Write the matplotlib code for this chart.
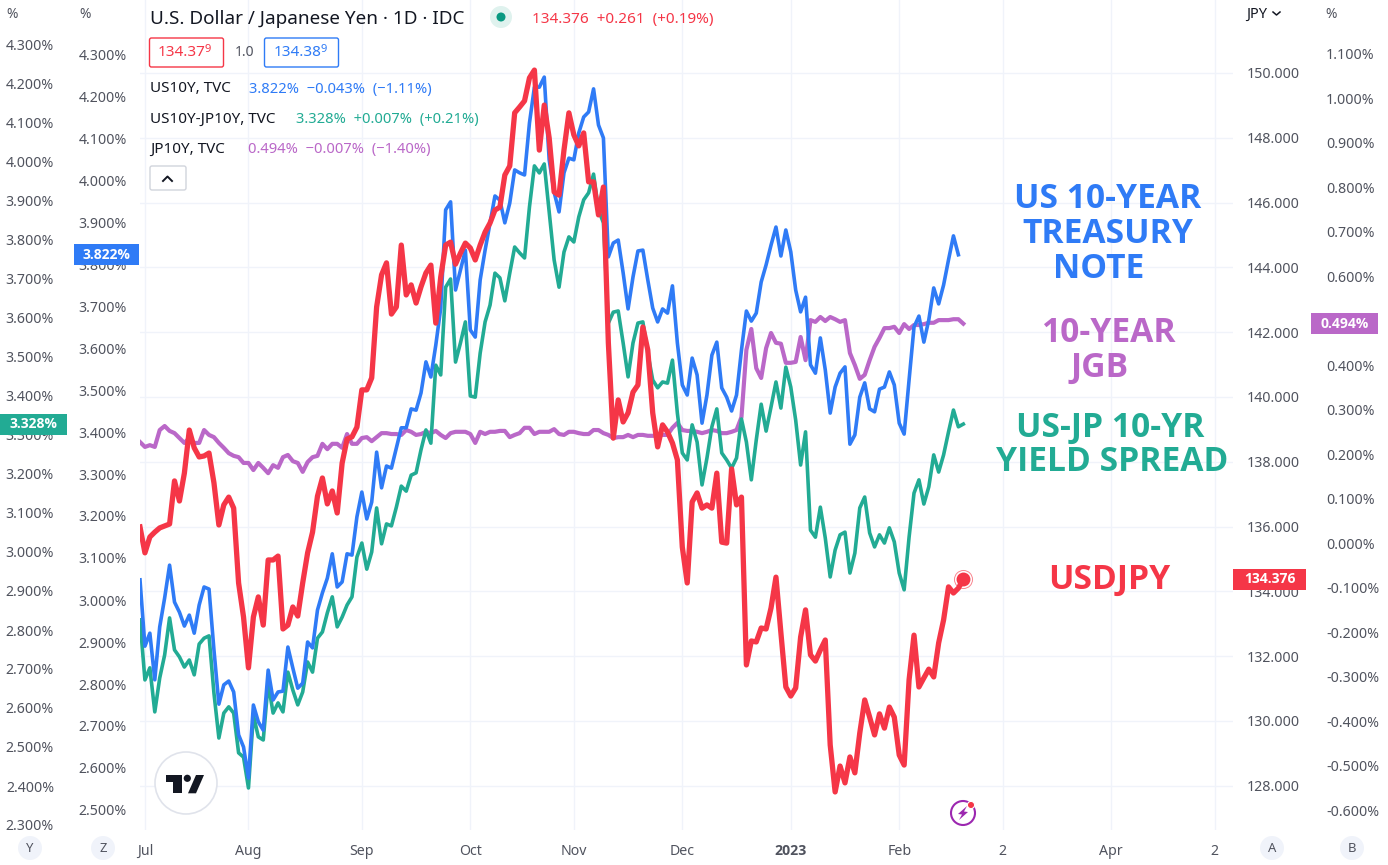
import numpy as np
import matplotlib
matplotlib.use("Agg")
import matplotlib.pyplot as plt
from matplotlib.patches import Circle, Polygon, FancyBboxPatch, Rectangle

plt.rcParams['font.family'] = ['Noto Sans', 'DejaVu Sans']

# Data (one value per daily bar)
usdjpy = [135.99, 135.19, 135.68, 135.83, 135.96, 136.02, 136.08, 137.41, 136.79, 137.65, 138.98, 138.43,
          138.15, 138.18, 138.27, 137.35, 136.05, 136.67, 136.91, 136.57, 134.26, 133.21, 131.64, 133.21,
          133.83, 132.96, 134.97, 134.97, 135.09, 132.84, 132.96, 133.52, 133.24, 134.26, 135.19, 135.83,
          136.94, 137.5, 136.7, 137.1, 136.42, 137.96, 138.7, 138.77, 139.07, 140.22, 140.22, 140.59,
          142.78, 143.77, 144.14, 142.56, 142.78, 144.69, 143.15, 143.46, 142.9, 143.4, 143.83, 144.07,
          142.28, 143.7, 144.69, 144.78, 144.1, 144.44, 144.75, 144.6, 144.23, 144.69, 145.09, 145.37,
          145.77, 145.86, 146.85, 147.13, 148.77, 148.95, 149.14, 149.85, 150.09, 147.62, 149.01, 147.99,
          146.33, 146.23, 147.62, 148.77, 148.09, 147.75, 148.15, 146.64, 146.64, 145.62, 146.48, 141.67,
          138.73, 139.91, 139.23, 139.51, 140.15, 140.37, 142.16, 141.45, 139.51, 138.46, 139.14, 138.92,
          138.58, 138.06, 135.37, 134.26, 136.76, 137.04, 136.57, 136.67, 136.57, 137.65, 135.52, 135.49,
          137.78, 136.67, 136.91, 131.73, 132.47, 132.44, 132.87, 132.84, 133.49, 134.44, 132.72, 131.05,
          130.77, 131.02, 132.59, 133.43, 132.04, 131.85, 132.19, 132.5, 129.26, 127.81, 128.61, 128.09,
          128.89, 128.4, 129.63, 130.65, 130.12, 129.57, 130.22, 129.78, 130.43, 130.12, 128.95, 128.64,
          131.27, 132.65, 131.05, 131.33, 131.6, 131.36, 132.41, 133.12, 134.14, 133.95, 134.1, 134.376]

us10y = [3.048, 2.89, 2.921, 2.81, 2.936, 3.005, 3.083, 2.995, 2.971, 2.938, 2.964, 2.921,
         2.988, 3.031, 3.026, 2.881, 2.752, 2.798, 2.807, 2.781, 2.679, 2.65, 2.576, 2.75,
         2.71, 2.69, 2.833, 2.762, 2.781, 2.783, 2.888, 2.838, 2.79, 2.802, 2.9, 2.886,
         2.976, 3.017, 3.052, 3.11, 3.031, 3.043, 3.11, 3.107, 3.198, 3.257, 3.193, 3.233,
         3.352, 3.267, 3.319, 3.314, 3.362, 3.41, 3.41, 3.455, 3.452, 3.493, 3.567, 3.531,
         3.607, 3.695, 3.929, 3.948, 3.738, 3.786, 3.833, 3.643, 3.626, 3.762, 3.833, 3.898,
         3.962, 3.952, 3.898, 3.945, 4.024, 4.017, 4.012, 4.136, 4.221, 4.221, 4.245, 4.048,
         3.971, 3.924, 4.017, 4.052, 4.048, 4.112, 4.15, 4.162, 4.217, 4.131, 4.1, 3.817,
         3.85, 3.857, 3.779, 3.693, 3.769, 3.831, 3.833, 3.762, 3.695, 3.662, 3.693, 3.683,
         3.748, 3.612, 3.512, 3.488, 3.576, 3.536, 3.421, 3.488, 3.583, 3.614, 3.505, 3.483,
         3.45, 3.488, 3.595, 3.688, 3.664, 3.683, 3.757, 3.798, 3.845, 3.888, 3.819, 3.881,
         3.829, 3.738, 3.686, 3.721, 3.56, 3.54, 3.624, 3.548, 3.445, 3.507, 3.54, 3.555,
         3.371, 3.393, 3.483, 3.517, 3.455, 3.448, 3.502, 3.507, 3.543, 3.512, 3.421, 3.395,
         3.524, 3.65, 3.676, 3.614, 3.667, 3.743, 3.705, 3.75, 3.81, 3.867, 3.822]

spread = [2.826, 2.672, 2.703, 2.59, 2.677, 2.736, 2.831, 2.749, 2.731, 2.705, 2.723, 2.685,
          2.764, 2.779, 2.785, 2.638, 2.523, 2.587, 2.603, 2.587, 2.485, 2.474, 2.395, 2.582,
          2.526, 2.518, 2.664, 2.587, 2.613, 2.59, 2.692, 2.646, 2.608, 2.641, 2.718, 2.692,
          2.779, 2.795, 2.844, 2.885, 2.808, 2.833, 2.864, 2.885, 2.987, 3.023, 2.956, 3.0,
          3.113, 3.021, 3.072, 3.067, 3.115, 3.169, 3.156, 3.197, 3.203, 3.262, 3.313, 3.279,
          3.479, 3.454, 3.679, 3.7, 3.487, 3.536, 3.59, 3.4, 3.397, 3.51, 3.59, 3.633,
          3.715, 3.703, 3.644, 3.715, 3.782, 3.767, 3.754, 3.885, 3.99, 3.972, 3.995, 3.872,
          3.749, 3.679, 3.769, 3.808, 3.795, 3.859, 3.903, 3.921, 3.969, 3.877, 3.844, 3.587,
          3.615, 3.618, 3.536, 3.449, 3.536, 3.587, 3.59, 3.51, 3.441, 3.421, 3.436, 3.433,
          3.492, 3.356, 3.254, 3.236, 3.326, 3.282, 3.172, 3.241, 3.321, 3.367, 3.254, 3.236,
          3.215, 3.241, 3.341, 3.282, 3.185, 3.287, 3.379, 3.31, 3.372, 3.436, 3.369, 3.474,
          3.423, 3.338, 3.223, 3.308, 3.056, 3.038, 3.115, 3.036, 2.936, 3.005, 3.044, 3.051,
          2.946, 2.997, 3.113, 3.141, 3.049, 3.013, 3.044, 3.023, 3.062, 3.026, 2.946, 2.903,
          3.038, 3.151, 3.185, 3.123, 3.167, 3.249, 3.205, 3.249, 3.308, 3.364, 3.321, 3.328]

jp10y = [.228, .217, .221, .217, .255, .264, .253, .248, .237, .226, .237, .226,
         .226, .255, .244, .239, .226, .215, .203, .197, .194, .181, .181, .165,
         .181, .17, .158, .176, .17, .194, .199, .185, .181, .161, .183, .194,
         .197, .224, .212, .224, .224, .215, .246, .224, .224, .237, .239, .23,
         .239, .248, .248, .246, .246, .244, .255, .251, .244, .246, .251, .248,
         .253, .244, .237, .248, .251, .251, .251, .246, .226, .251, .246, .251,
         .251, .253, .253, .239, .244, .248, .26, .26, .246, .251, .251, .251,
         .257, .246, .244, .251, .251, .248, .246, .246, .255, .255, .248, .244,
         .237, .239, .239, .244, .239, .244, .244, .242, .242, .242, .244, .244,
         .26, .271, .255, .253, .253, .251, .248, .251, .255, .253, .248, .248,
         .251, .255, .284, .435, .482, .394, .372, .439, .473, .451, .449, .406,
         .406, .408, .464, .412, .502, .498, .509, .5, .509, .504, .498, .502,
         .428, .401, .37, .379, .412, .442, .462, .484, .484, .487, .473, .493,
         .482, .491, .491, .493, .496, .496, .502, .502, .502, .504, .504, .494]

# Axis ticks
month_bars = [1, 22, 45, 67, 88, 110, 132, 154, 175, 197, 218]
month_labels = ["Jul", "Aug", "Sep", "Oct", "Nov", "Dec", "2023", "Feb", "2", "Apr", "2"]
jpy_ticks = np.arange(128, 151, 2)
y_ticks = np.arange(23, 44) / 10
z_ticks = np.arange(25, 44) / 10
b_ticks = np.arange(-6, 12) / 10

# Colours
RED = "#F53647"
BLUE = "#2F7BF6"
GREEN = "#22AB94"
PURPLE = "#BA68C8"
DARK = "#131722"
GRAY = "#50535E"
GRID = "#F0F3FA"

# Layout in pixels
W, H = 1388, 865
LEFT, RIGHT, BOTTOM = 140, 1233, 830
BAR_PX = 4.93
TICK_SIZE = 10.2
BOLD_FONT = 'Open Sans'


def value_limits(px_a, val_a, px_per_unit):
    # Limits of a price scale from one known tick and its pixel density
    return val_a - (BOTTOM - px_a) / px_per_unit, val_a + px_a / px_per_unit


fig = plt.figure(figsize=(W / 100, H / 100), dpi=100, facecolor="white")
pos = [LEFT / W, 1 - BOTTOM / H, (RIGHT - LEFT) / W, BOTTOM / H]

# Base axes: time scale and the grid
ax = fig.add_axes(pos)
ax.set_xlim(0, (RIGHT - LEFT) / BAR_PX)
jpy_lim = value_limits(73, 150, 32.4)
ax.set_ylim(*jpy_lim)
ax.set_xticks(month_bars)
ax.set_xticklabels(month_labels)
bold_tick = ax.get_xticklabels()[6]
bold_tick.set_fontweight("bold")
bold_tick.set_fontfamily(BOLD_FONT)
bold_tick.set_color(DARK)
ax.tick_params(axis='x', length=0, pad=10, labelsize=10.2, labelcolor=GRAY)
ax.set_yticks(jpy_ticks)
ax.tick_params(axis='y', length=0, labelleft=False)
ax.grid(True, color=GRID, linewidth=1)
ax.set_axisbelow(True)
for s in ax.spines.values():
    s.set_visible(False)


def price_axes(limits, ticks, side, outward_px, zorder, fmt="{:.3f}%"):
    a = ax.twinx()
    a.set_ylim(*limits)
    a.set_zorder(zorder)
    a.patch.set_visible(False)
    for s in a.spines.values():
        s.set_visible(False)
    if side == "left":
        a.yaxis.tick_left()
    else:
        a.yaxis.tick_right()
    if ticks is None:
        a.set_yticks([])
        return a
    a.spines[side].set_position(('outward', outward_px * 0.72))
    a.set_yticks(ticks)
    a.set_yticklabels([fmt.format(v) for v in ticks])
    a.tick_params(axis='y', length=0, pad=0, labelsize=TICK_SIZE, labelcolor=GRAY)
    return a


ax_j = price_axes(jpy_lim, jpy_ticks, "right", 14, 1, fmt="{:.3f}")
ax_b = price_axes(value_limits(321, 0.5, 445), b_ticks, "right", 93, 2)
ax_y = price_axes(value_limits(45, 4.3, 390), y_ticks, "left", 86, 3)
ax_z = price_axes(value_limits(54, 4.3, 420), z_ticks, "left", 13, 4)
ax_r = price_axes(jpy_lim, None, "right", 0, 5)

ax_b.plot(np.arange(len(jp10y)), jp10y, color=PURPLE, lw=3.0, solid_joinstyle='round')
ax_y.plot(np.arange(len(spread)), spread, color=GREEN, lw=2.6, solid_joinstyle='round')
ax_z.plot(np.arange(len(us10y)), us10y, color=BLUE, lw=2.6, solid_joinstyle='round')
ax_r.plot(np.arange(len(usdjpy)), usdjpy, color=RED, lw=3.8, solid_joinstyle='round')
ax_r.plot(len(usdjpy) - 1, usdjpy[-1], 'o', color=RED, ms=10, mew=0)
ax_r.plot(len(usdjpy) - 1, usdjpy[-1], 'o', mfc='none', mec=RED, ms=13, mew=0.7, alpha=0.6)

# Overlay in pixel coordinates for the legend, annotations and icons
ov = fig.add_axes([0, 0, 1, 1], zorder=10)
ov.set_xlim(0, W)
ov.set_ylim(H, 0)
ov.axis('off')
ov.patch.set_visible(False)


def label(x, y, s, color=DARK, size=10.2, ha='left', weight='normal', family=None):
    ov.text(x, y + 1, s, color=color, fontsize=size, ha=ha, va='center', fontweight=weight,
            fontfamily=family or plt.rcParams['font.family'])


def badge(a, value, x0, x1, color, fmt="{:.3f}%"):
    # Last value tag, its height follows the scale of its series
    y = H - a.transData.transform((0, value))[1]
    ov.add_patch(Rectangle((x0, y - 10.5), x1 - x0, 21, fc=color, ec='none'))
    label((x0 + x1) / 2, y - 1, fmt.format(value), color='white', size=10, ha='center', weight='bold', family=BOLD_FONT)


badge(ax_y, spread[-1], 0, 67, GREEN)
badge(ax_z, us10y[-1], 74, 139, BLUE)
badge(ax_b, jp10y[-1], 1311, 1378, PURPLE)
badge(ax_r, usdjpy[-1], 1233, 1306, RED, fmt="{:.3f}")

# Lowest left scale labels are cut off at the time scale
ov.add_patch(Rectangle((0, 830), 136, 8, fc='white', ec='none'))

# Legend block
label(150, 18, "U.S. Dollar / Japanese Yen · 1D · IDC", size=13.6)
ov.add_patch(Circle((501, 17), 11, fc="#DFF2EE", ec='none'))
ov.add_patch(Circle((501, 17), 4.5, fc="#089981", ec='none'))
label(532, 19, "134.376  +0.261  (+0.19%)", color=RED, size=11)

for x0, x1, col in [(149.5, 223.5, RED), (264.5, 338.5, BLUE)]:
    ov.add_patch(FancyBboxPatch((x0 + 2, 40), x1 - x0 - 4, 25, boxstyle="round,pad=2", fc='white', ec=col, lw=1))
label(158, 52, "134.37", color=RED, size=11)
label(205, 49, "9", color=RED, size=8)
label(235, 52, "1.0", color=GRAY, size=10)
label(274, 52, "134.38", color=BLUE, size=11)
label(321, 49, "9", color=BLUE, size=8)

label(150, 88, "US10Y, TVC", size=11)
label(249, 88, "3.822%  \u22120.043%  (\u22121.11%)", color=BLUE, size=10.6)
label(150, 118, "US10Y-JP10Y, TVC", size=11)
label(296, 118, "3.328%  +0.007%  (+0.21%)", color=GREEN, size=10.6)
label(150, 148, "JP10Y, TVC", size=11)
label(248, 148, "0.494%  \u22120.007%  (\u22121.40%)", color=PURPLE, size=10.6)

ov.add_patch(FancyBboxPatch((152, 168), 32, 20, boxstyle="round,pad=2", fc='white', ec="#D1D4DC", lw=1))
ov.plot([163, 167.5, 172], [181, 176.5, 181], color=DARK, lw=1.4)

# Scale headers
label(6, 13, "%", color=GRAY, size=10)
label(79, 13, "%", color=GRAY, size=10)
label(1246, 13, "JPY", color=DARK, size=10.5)
ov.plot([1273, 1276.5, 1280], [12, 15, 12], color=DARK, lw=1.1)
label(1325, 13, "%", color=GRAY, size=10)

# Chart annotations
for x, y, s, col in [(1108, 197, "US 10-YEAR", BLUE), (1108, 232, "TREASURY", BLUE), (1099, 267, "NOTE", BLUE),
                     (1108, 331, "10-YEAR", PURPLE), (1100, 366, "JGB", PURPLE),
                     (1110, 426, "US-JP 10-YR", GREEN), (1112, 460, "YIELD SPREAD", GREEN),
                     (1109, 578, "USDJPY", RED)]:
    label(x, y + 1, s, color=col, size=24.2, ha='center', weight='bold', family=BOLD_FONT)

# Scale buttons under the axes
for x, s in [(30, "Y"), (103, "Z"), (1272, "A"), (1352, "B")]:
    ov.add_patch(Circle((x, 848), 12, fc="#F0F3FA", ec='none'))
    label(x, 847, s, color=GRAY, size=9.4, ha='center')

# TradingView logo
ov.add_patch(Circle((186, 783), 31, fc='white', ec="#E0E3EB", lw=1.2))
ov.add_patch(Polygon([(166, 775), (181.7, 775), (181.7, 793.3), (173.3, 793.3), (173.3, 782), (166, 782)],
                     fc=DARK, ec='none'))
ov.add_patch(Circle((187.3, 778.3), 3.6, fc=DARK, ec='none'))
ov.add_patch(Polygon([(196, 775), (204, 775), (196, 793.3), (188, 793.3)], fc=DARK, ec='none'))

# Lightning icon
ov.add_patch(Circle((963, 813), 12, fc='white', ec="#9C27B0", lw=1.5))
ov.add_patch(Polygon([(967, 806), (958, 814), (962, 814.5), (959, 820), (968, 812), (964, 811.5)],
                     fc="#9C27B0", ec='none'))
ov.add_patch(Circle((971, 805), 3.6, fc=RED, ec='white', lw=0.8))

fig.savefig("out.png", dpi=100)
